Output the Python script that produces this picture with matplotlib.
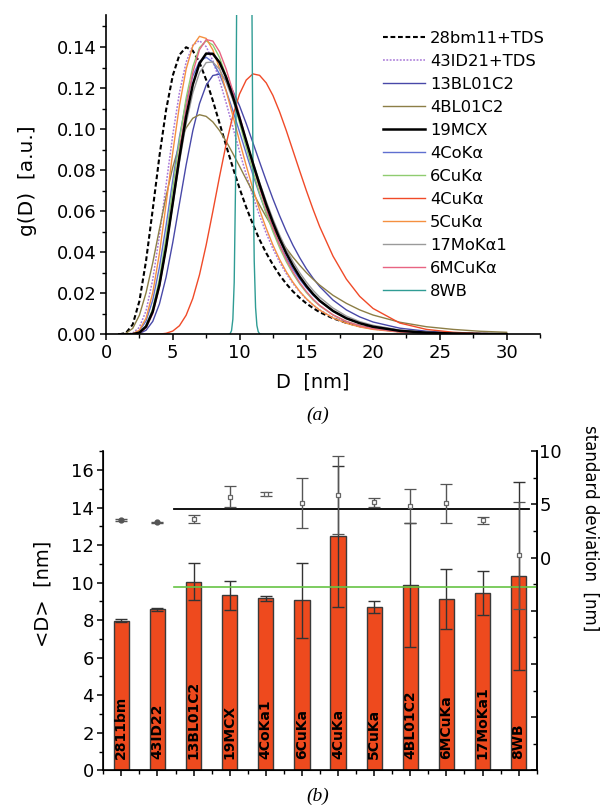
import numpy as np
import matplotlib
matplotlib.use('Agg')
import matplotlib.pyplot as plt
from matplotlib.ticker import MultipleLocator, FormatStrFormatter, FuncFormatter

plt.rcParams['font.family'] = ['DejaVu Sans']

# ---- panel (a): size distributions g(D)
curve_names = ['28bm11+TDS', '43ID21+TDS', '13BL01C2', '4BL01C2', '19MCX', '4CoKα',
               '6CuKα', '4CuKα', '5CuKα', '17MoKα1', '6MCuKα', '8WB']
curve_colors = ['black', '#a878d8', '#4848a8', '#8c7e46', 'black', '#5f6fd0',
                '#8fcc70', '#f04a28', '#f59040', '#9a9a9a', '#e86482', '#2f9c94']
curve_ls = [(0, (2.3, 1.3)), (0, (1.2, 1.0))] + ['-'] * 10
curve_lw = [1.5, 1.1, 1.0, 1.0, 1.8, 1.0, 1.0, 1.0, 1.0, 1.0, 1.0, 1.0]

D_grid = [1.0, 1.5, 2.0, 2.5, 3.0, 3.5, 4.0, 4.5, 5.0, 5.5, 6.0, 6.5, 7.0, 7.5, 8.0, 8.5,
          9.0, 9.5, 10.0, 10.5, 11.0, 11.5, 12.0, 12.5, 13.0, 13.5, 14.0, 14.5, 15.0, 15.5,
          16.0, 17, 18, 19, 20, 22, 24, 26, 28, 30]
D_wb = [1.0, 9.0, 9.1, 9.2, 9.3, 9.4, 9.5, 9.6, 9.7, 9.8, 9.9, 10.0, 10.1, 10.2, 10.3, 10.4,
        10.5, 10.6, 10.7, 10.8, 10.9, 11.0, 11.1, 11.2, 11.3, 11.4, 11.5, 11.6, 11.7, 11.8, 30.0]

g_28bm11 = [0, 0.0007, 0.0048, 0.0162, 0.0359, 0.0609, 0.0868, 0.1094, 0.1261, 0.1362,
            0.1399, 0.1382, 0.1325, 0.124, 0.1139, 0.1029, 0.0919, 0.0812, 0.0711, 0.0619,
            0.0536, 0.0461, 0.0396, 0.0339, 0.0289, 0.0246, 0.0209, 0.0178, 0.0151, 0.0128,
            0.0108, 0.0078, 0.0056, 0.004, 0.0029, 0.0015, 0.0008, 0.0004, 0.0002, 0.0001]
g_43ID21 = [0, 0, 0.0006, 0.0034, 0.0115, 0.0267, 0.0481, 0.0729, 0.0972, 0.1178,
            0.1326, 0.1409, 0.1431, 0.1402, 0.1333, 0.1238, 0.1127, 0.1009, 0.0891, 0.0778,
            0.0673, 0.0578, 0.0492, 0.0417, 0.0352, 0.0296, 0.0248, 0.0207, 0.0172, 0.0143,
            0.0119, 0.0082, 0.0056, 0.0038, 0.0026, 0.0012, 0.0006, 0.0003, 0.0001, 0.0001]
g_13BL01C2 = [0, 0, 0, 0.0004, 0.002, 0.0063, 0.0148, 0.0279, 0.0448, 0.0637,
              0.0825, 0.0992, 0.1124, 0.1214, 0.1261, 0.1268, 0.124, 0.1186, 0.1113, 0.1027,
              0.0934, 0.084, 0.0748, 0.066, 0.0578, 0.0502, 0.0434, 0.0374, 0.032, 0.0274,
              0.0233, 0.0167, 0.0119, 0.0085, 0.006, 0.003, 0.0015, 0.0007, 0.0004, 0.0002]
g_4BL01C2 = [0, 0.0005, 0.0029, 0.0093, 0.0203, 0.0349, 0.0513, 0.0673, 0.0814, 0.0926,
             0.1006, 0.1053, 0.107, 0.1062, 0.1035, 0.0993, 0.094, 0.0881, 0.0819, 0.0755,
             0.0692, 0.063, 0.0572, 0.0517, 0.0466, 0.0419, 0.0376, 0.0337, 0.0301, 0.0269,
             0.024, 0.019, 0.0151, 0.0119, 0.0094, 0.0059, 0.0037, 0.0024, 0.0015, 0.001]
g_19MCX = [0, 0, 0.0001, 0.0008, 0.0038, 0.0111, 0.0241, 0.0424, 0.0641, 0.0863,
           0.1061, 0.1217, 0.132, 0.1368, 0.1367, 0.1325, 0.1252, 0.1158, 0.1053, 0.0943,
           0.0834, 0.073, 0.0632, 0.0544, 0.0465, 0.0395, 0.0334, 0.0281, 0.0236, 0.0197,
           0.0164, 0.0114, 0.0078, 0.0054, 0.0037, 0.0017, 0.0008, 0.0004, 0.0002, 0.0001]
g_4CoKa = [0, 0, 0.0002, 0.0017, 0.0065, 0.0167, 0.0327, 0.0531, 0.0752, 0.0962,
           0.1135, 0.1259, 0.133, 0.135, 0.1326, 0.1268, 0.1187, 0.109, 0.0986, 0.0881,
           0.0778, 0.0681, 0.0591, 0.051, 0.0437, 0.0373, 0.0317, 0.0269, 0.0227, 0.0191,
           0.0161, 0.0113, 0.0079, 0.0055, 0.0039, 0.0019, 0.0009, 0.0005, 0.0002, 0.0001]
g_6CuKa = [0, 0, 0.0001, 0.0009, 0.0043, 0.0125, 0.0271, 0.0474, 0.071, 0.0946,
           0.1151, 0.1304, 0.1397, 0.143, 0.141, 0.1349, 0.1258, 0.1149, 0.1031, 0.0911,
           0.0796, 0.0687, 0.0588, 0.05, 0.0422, 0.0354, 0.0296, 0.0246, 0.0204, 0.0168,
           0.0139, 0.0094, 0.0063, 0.0042, 0.0028, 0.0013, 0.0006, 0.0003, 0.0001, 0.0001]
g_4CuKa = [0, 0, 0, 0, 0, 0, 0.0001, 0.0005, 0.0016, 0.0042,
           0.0093, 0.0175, 0.029, 0.0435, 0.0599, 0.0768, 0.0928, 0.1066, 0.1171, 0.1239,
           0.1269, 0.1262, 0.1225, 0.1164, 0.1084, 0.0993, 0.0895, 0.0797, 0.0701, 0.061,
           0.0525, 0.0381, 0.0269, 0.0185, 0.0126, 0.0055, 0.0024, 0.001, 0.0004, 0.0002]
g_5CuKa = [0, 0, 0.0003, 0.002, 0.0079, 0.0202, 0.0394, 0.0635, 0.0887, 0.1115,
           0.1292, 0.1405, 0.1452, 0.1442, 0.1386, 0.1296, 0.1185, 0.1065, 0.0941, 0.0822,
           0.071, 0.0607, 0.0516, 0.0435, 0.0365, 0.0305, 0.0254, 0.021, 0.0174, 0.0144,
           0.0118, 0.008, 0.0054, 0.0036, 0.0024, 0.0011, 0.0005, 0.0002, 0.0001, 0.0001]
g_17MoKa1 = [0, 0, 0.0001, 0.0009, 0.0041, 0.0115, 0.0244, 0.0421, 0.0629, 0.0839,
             0.1027, 0.1176, 0.1275, 0.1324, 0.1327, 0.1291, 0.1227, 0.1142, 0.1045, 0.0943,
             0.084, 0.0741, 0.0648, 0.0562, 0.0484, 0.0415, 0.0354, 0.0301, 0.0255, 0.0215,
             0.0181, 0.0128, 0.0089, 0.0062, 0.0044, 0.0021, 0.001, 0.0005, 0.0002, 0.0001]
g_6MCuKa = [0, 0, 0.0001, 0.0006, 0.0032, 0.01, 0.023, 0.042, 0.065, 0.089,
            0.1106, 0.1276, 0.1387, 0.1436, 0.1429, 0.1377, 0.1292, 0.1185, 0.1066, 0.0944,
            0.0825, 0.0713, 0.061, 0.0518, 0.0436, 0.0365, 0.0304, 0.0252, 0.0209, 0.0172,
            0.0141, 0.0095, 0.0063, 0.0042, 0.0028, 0.0012, 0.0005, 0.0002, 0.0001, 0]
g_8WB = [0, 0, 0, 0.0001, 0.0004, 0.0018, 0.0074, 0.0253, 0.0728, 0.1773, 0.3674, 0.6505,
         0.9882, 1.2942, 1.4675, 1.4466, 1.2447, 0.9385, 0.6223, 0.3642, 0.1888, 0.087,
         0.0357, 0.0131, 0.0043, 0.0013, 0.0003, 0.0001, 0, 0, 0]

curve_values = [g_28bm11, g_43ID21, g_13BL01C2, g_4BL01C2, g_19MCX, g_4CoKa,
                g_6CuKa, g_4CuKa, g_5CuKa, g_17MoKa1, g_6MCuKa, g_8WB]

# ---- panel (b): mean size (bars, left axis) and standard deviation (points, right axis)
bar_labels = ['2811bm', '43ID22', '13BL01C2', '19MCX', '4CoKa1', '6CuKa', '4CuKa',
              '5CuKa', '4BL01C2', '6MCuKa', '17MoKa1', '8WB']
mean_d = [7.98, 8.57, 10.06, 9.32, 9.16, 9.05, 12.46, 8.68, 9.88, 9.14, 9.46, 10.35]
mean_err = [0.10, 0.07, 0.96, 0.78, 0.13, 2.01, 3.77, 0.32, 3.30, 1.60, 1.18, 5.00]
std_d = [3.56, 3.31, 3.65, 5.72, 5.98, 5.13, 5.88, 5.22, 4.88, 5.10, 3.50, 0.20]
std_err = [0.10, 0.08, 0.36, 0.97, 0.16, 2.34, 3.70, 0.42, 1.60, 1.83, 0.35, 4.99]
avg_mean = 9.76
avg_std = 4.53

fig = plt.figure(figsize=(6.1, 8.06), dpi=100)

# panel (a)
ax1 = fig.add_axes([0.1738, 0.5852, 0.7114, 0.3962])
for i, n in enumerate(curve_names):
    grid = D_wb if n == '8WB' else D_grid
    ax1.plot(grid, curve_values[i], color=curve_colors[i], ls=curve_ls[i], lw=curve_lw[i],
             label=n, zorder=3 if n == '19MCX' else 2)
ax1.set_xlim(0, 32.5)
ax1.set_ylim(0, 0.1556)
ax1.xaxis.set_major_locator(MultipleLocator(5))
ax1.xaxis.set_minor_locator(MultipleLocator(2.5))
ax1.yaxis.set_major_locator(MultipleLocator(0.02))
ax1.yaxis.set_minor_locator(MultipleLocator(0.01))
ax1.yaxis.set_major_formatter(FormatStrFormatter('%.2f'))
for s in ('top', 'right'):
    ax1.spines[s].set_visible(False)
for s in ('left', 'bottom'):
    ax1.spines[s].set_linewidth(1.2)
ax1.tick_params(which='major', direction='out', length=4.3, width=1.1, labelsize=13, pad=2.5)
ax1.tick_params(which='minor', direction='out', length=3, width=1.0)
ax1.set_xlabel('D  [nm]', fontsize=14)
ax1.xaxis.set_label_coords(0.477, -0.118)
ax1.set_ylabel('g(D)  [a.u.]', fontsize=14.5)
ax1.yaxis.set_label_coords(-0.159, 0.48)
ax1.legend(loc='upper left', bbox_to_anchor=(0.628, 0.962), bbox_transform=fig.transFigure,
           frameon=False, fontsize=11.8, handlelength=2.56, handletextpad=0.3,
           labelspacing=0.49, borderpad=0, borderaxespad=0)
fig.text(0.521, 0.485, '(a)', family='Liberation Serif', style='italic', fontsize=14,
         ha='center', va='center')

# panel (b)
ax2 = fig.add_axes([0.1693, 0.0443, 0.7105, 0.3958])
x = np.arange(1, len(bar_labels) + 1)
ax2.bar(x, mean_d, width=0.42, color='#ee4a1e', edgecolor='#3a3a3a', lw=1.0, zorder=2)
ax2.errorbar(x, mean_d, yerr=mean_err, fmt='none', ecolor='#333333', elinewidth=1.0,
             capsize=4.5, capthick=1.0, zorder=3)
for xi, lab in zip(x, bar_labels):
    ax2.text(xi, 0.62, lab, rotation=90, ha='center', va='bottom', fontsize=10,
             fontweight='bold', zorder=4)
ax2.plot([2.45, 12.5], [avg_mean, avg_mean], color='#66c444', lw=1.2, zorder=4)
ax2.set_xlim(0.5, 12.5)
ax2.set_ylim(0, 17)
ax2.xaxis.set_major_locator(MultipleLocator(1))
ax2.xaxis.set_minor_locator(MultipleLocator(0.5))
ax2.set_xticklabels([])
ax2.yaxis.set_major_locator(MultipleLocator(2))
ax2.yaxis.set_minor_locator(MultipleLocator(1))
ax2.spines['top'].set_visible(False)
for s in ('left', 'bottom', 'right'):
    ax2.spines[s].set_linewidth(1.2)
ax2.tick_params(which='major', direction='out', length=4.3, width=1.1, labelsize=13, pad=2.5)
ax2.tick_params(which='minor', direction='out', length=3, width=1.0)
ax2.set_ylabel('<D>  [nm]', fontsize=14)
ax2.yaxis.set_label_coords(-0.118, 0.553)

ax3 = ax2.twinx()
ax3.set_ylim(-20, 10)
ax3.spines['top'].set_visible(False)
ax3.spines['right'].set_linewidth(1.2)
ax3.yaxis.set_major_locator(MultipleLocator(5))
ax3.yaxis.set_minor_locator(MultipleLocator(2.5))
ax3.yaxis.set_major_formatter(FuncFormatter(lambda v, p: f'{v:g}' if v >= 0 else ''))
ax3.tick_params(which='major', direction='in', length=4.3, width=1.1, labelsize=13, pad=2)
ax3.tick_params(which='minor', direction='in', length=3, width=1.0)
ax3.plot([2.45, 12.3], [avg_std, avg_std], color='black', lw=1.3, zorder=2)
ax3.errorbar(x[:2], std_d[:2], yerr=std_err[:2], fmt='o', ms=3.5, mfc='#555555',
             mec='#555555', ecolor='#555555', elinewidth=1.0, capsize=4, zorder=3)
ax3.errorbar(x[2:], std_d[2:], yerr=std_err[2:], fmt='s', ms=3.5, mfc='white',
             mec='#666666', mew=0.9, ecolor='#555555', elinewidth=1.0, capsize=4.3, zorder=3)
fig.text(0.967, 0.345, 'standard deviation  [nm]', rotation=270, fontsize=12,
         ha='center', va='center')
fig.text(0.521, 0.0124, '(b)', family='Liberation Serif', style='italic', fontsize=14,
         ha='center', va='center')

fig.savefig('out.png')
